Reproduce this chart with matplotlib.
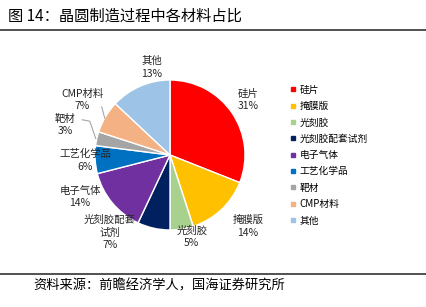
import matplotlib.pyplot as plt
from matplotlib.lines import Line2D

plt.rcParams['font.family'] = ['Noto Sans CJK SC', 'DejaVu Sans']

# data
names = ['硅片', '掩膜版', '光刻胶', '光刻胶配套试剂', '电子气体',
         '工艺化学品', '靶材', 'CMP材料', '其他']
label_text = ['硅片', '掩膜版', '光刻胶', '光刻胶配套\n试剂', '电子气体',
              '工艺化学品', '靶材', 'CMP材料', '其他']
shares = [31, 14, 5, 7, 14, 6, 3, 7, 13]
colors = ['#FF0000', '#FFC000', '#A9D18E', '#002060', '#7030A0',
          '#0070C0', '#A5A5A5', '#F4B183', '#9DC3E6']

# label centres in units of the pie radius
label_pos = [(1.04, 0.73), (1.04, -0.95), (0.29, -1.09), (-0.8, -1.03),
             (-1.2, -0.56), (-1.13, -0.07), (-1.4, 0.4), (-1.17, 0.73),
             (-0.24, 1.17)]

W, H = 427, 307
fig = plt.figure(figsize=(W / 100, H / 100), dpi=100)

# pie axes: centre at (170, 155) px, radius 75 px
cx, cy, r = 170, 155, 75
ax = fig.add_axes([(cx - 2.2 * r) / W, (H - cy - 1.6 * r) / H,
                   4.4 * r / W, 3.2 * r / H])

wedges, _ = ax.pie(shares, colors=colors, startangle=90, counterclock=False,
                   radius=1, wedgeprops=dict(edgecolor='white', linewidth=1))
ax.set_aspect('auto')
ax.set_xlim(-2.2, 2.2)
ax.set_ylim(-1.6, 1.6)
ax.axis('off')

for txt, v, (lx, ly) in zip(label_text, shares, label_pos):
    ax.text(lx, ly, f'{txt}\n{v}%', ha='center', va='center',
            fontsize=7.5, color='#262626', linespacing=1.3)

# leader lines for the two small slices
ax.plot([-1.17, -1.07, -0.99], [0.47, 0.45, 0.22], color='#A6A6A6', lw=0.8)
ax.plot([-0.91, -0.87], [0.64, 0.49], color='#A6A6A6', lw=0.8)

# legend
handles = [Line2D([], [], marker='s', ls='', color=c, markersize=3.5)
           for c in colors]
fig.legend(handles, names, loc='upper left',
           bbox_to_anchor=(286 / W, 1 - 81 / H), frameon=False,
           fontsize=7, handlelength=0.6, handletextpad=0.4,
           labelspacing=0.65, borderaxespad=0)

# title and footer
fig.text(8 / W, 1 - 16 / H, '图 14：晶圆制造过程中各材料占比',
         fontsize=11, va='center', ha='left', color='black')
fig.add_artist(Line2D([0, 1], [1 - 30 / H, 1 - 30 / H],
                      transform=fig.transFigure, color='#333333', lw=1.2))
fig.add_artist(Line2D([0, 1], [1 - 274 / H, 1 - 274 / H],
                      transform=fig.transFigure, color='#333333', lw=1.2))
fig.text(33 / W, 1 - 286 / H, '资料来源：前瞻经济学人，国海证券研究所',
         fontsize=9.5, va='center', ha='left', color='black')

fig.savefig('out.png', dpi=100)
